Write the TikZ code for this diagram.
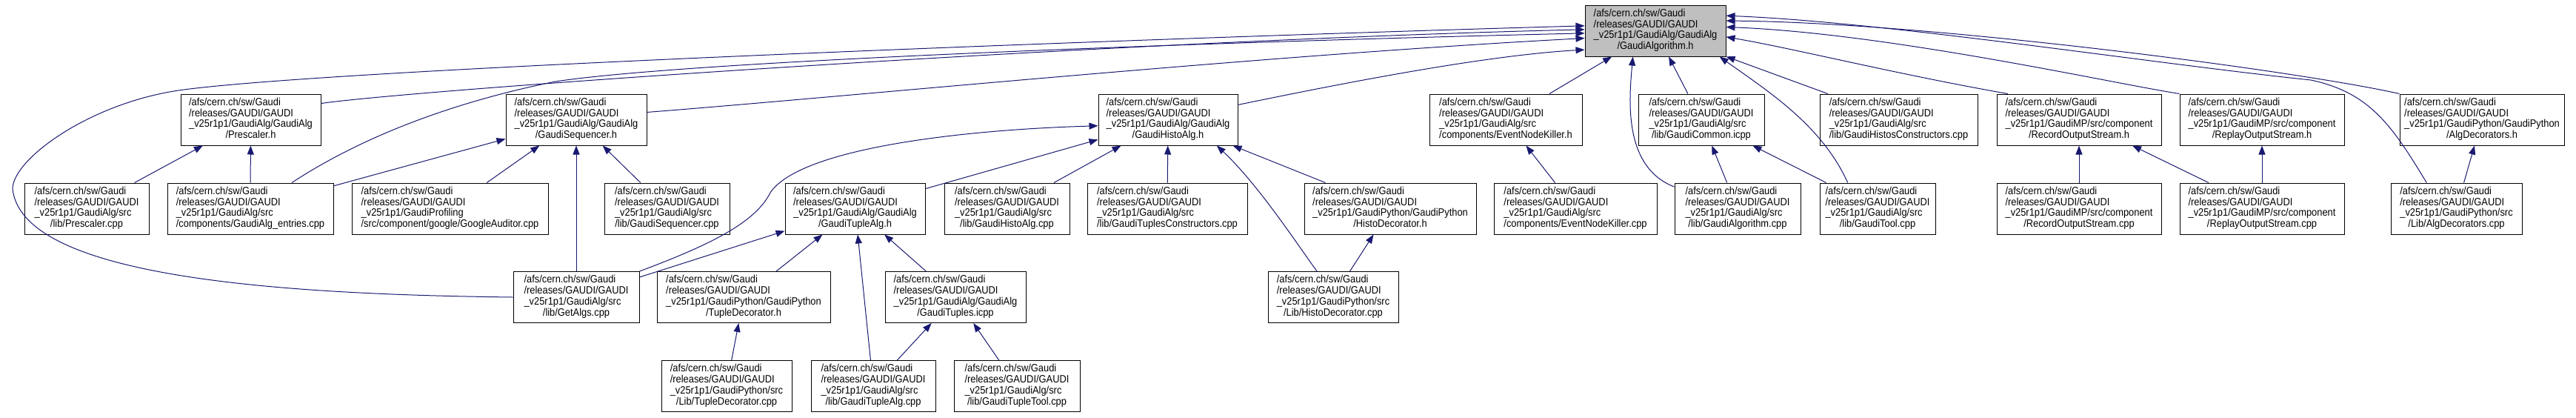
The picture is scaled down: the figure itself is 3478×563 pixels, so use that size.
\documentclass[tikz,border=0pt]{standalone}
\usepackage{fontspec}
\setmainfont[FakeStretch=0.9]{Liberation Sans}
\usetikzlibrary{arrows.meta}
\definecolor{edgeblue}{HTML}{191970}
\definecolor{rootgray}{HTML}{BFBFBF}
\newcommand{\gpath}[2]{\begin{tabular}{@{}l@{}}/afs/cern.ch/sw/Gaudi\\/releases/GAUDI/GAUDI\\#1\\\multicolumn{1}{@{}c@{}}{#2}\end{tabular}}

\begin{document}
\begin{tikzpicture}[x=1pt,y=-1pt,
	filebox/.style={draw=black,line width=1pt,fill=white,minimum height=69pt,inner sep=0pt,font=\fontsize{14.3}{14.5}\selectfont},
	rootbox/.style={filebox,fill=rootgray},
	inc/.style={draw=edgeblue,line width=1pt,-{Triangle[length=12pt,width=9pt]}}]
	\useasboundingbox (0,0) rectangle (3478,563);
	
	\node[rootbox,minimum width=190pt] (root) at (2235,41.5) {\gpath{\_v25r1p1/GaudiAlg/GaudiAlg}{/GaudiAlgorithm.h}};
	
	\node[filebox,minimum width=189pt] (presh) at (338.5,161.5) {\gpath{\_v25r1p1/GaudiAlg/GaudiAlg}{/Prescaler.h}};
	\node[filebox,minimum width=190pt] (seqh) at (778,161.5) {\gpath{\_v25r1p1/GaudiAlg/GaudiAlg}{/GaudiSequencer.h}};
	\node[filebox,minimum width=188pt] (histoh) at (1577,161.5) {\gpath{\_v25r1p1/GaudiAlg/GaudiAlg}{/GaudiHistoAlg.h}};
	\node[filebox,minimum width=206pt] (enkh) at (2033,161.5) {\gpath{\_v25r1p1/GaudiAlg/src}{/components/EventNodeKiller.h}};
	\node[filebox,minimum width=170pt] (common) at (2297,161.5) {\gpath{\_v25r1p1/GaudiAlg/src}{/lib/GaudiCommon.icpp}};
	\node[filebox,minimum width=213pt] (histoscons) at (2563.5,161.5) {\gpath{\_v25r1p1/GaudiAlg/src}{/lib/GaudiHistosConstructors.cpp}};
	\node[filebox,minimum width=222pt] (recordh) at (2807,161.5) {\gpath{\_v25r1p1/GaudiMP/src/component}{/RecordOutputStream.h}};
	\node[filebox,minimum width=222pt] (replayh) at (3054,161.5) {\gpath{\_v25r1p1/GaudiMP/src/component}{/ReplayOutputStream.h}};
	\node[filebox,minimum width=222pt] (algdech) at (3351,161.5) {\gpath{\_v25r1p1/GaudiPython/GaudiPython}{/AlgDecorators.h}};
	
	\node[filebox,minimum width=168pt] (prescpp) at (117,281.5) {\gpath{\_v25r1p1/GaudiAlg/src}{/lib/Prescaler.cpp}};
	\node[filebox,minimum width=224pt] (entries) at (338,281.5) {\gpath{\_v25r1p1/GaudiAlg/src}{/components/GaudiAlg\_entries.cpp}};
	\node[filebox,minimum width=265pt] (google) at (607.5,281.5) {\gpath{\_v25r1p1/GaudiProfiling}{/src/component/google/GoogleAuditor.cpp}};
	\node[filebox,minimum width=169pt] (seqcpp) at (900.5,281.5) {\gpath{\_v25r1p1/GaudiAlg/src}{/lib/GaudiSequencer.cpp}};
	\node[filebox,minimum width=189pt] (tuplealgh) at (1154.5,281.5) {\gpath{\_v25r1p1/GaudiAlg/GaudiAlg}{/GaudiTupleAlg.h}};
	\node[filebox,minimum width=169pt] (histocpp) at (1359.5,281.5) {\gpath{\_v25r1p1/GaudiAlg/src}{/lib/GaudiHistoAlg.cpp}};
	\node[filebox,minimum width=216pt] (tuplescons) at (1576,281.5) {\gpath{\_v25r1p1/GaudiAlg/src}{/lib/GaudiTuplesConstructors.cpp}};
	\node[filebox,minimum width=232pt] (histodech) at (1877,281.5) {\gpath{\_v25r1p1/GaudiPython/GaudiPython}{/HistoDecorator.h}};
	\node[filebox,minimum width=220pt] (enkcpp) at (2127,281.5) {\gpath{\_v25r1p1/GaudiAlg/src}{/components/EventNodeKiller.cpp}};
	\node[filebox,minimum width=170pt] (algcpp) at (2346,281.5) {\gpath{\_v25r1p1/GaudiAlg/src}{/lib/GaudiAlgorithm.cpp}};
	\node[filebox,minimum width=156pt] (toolcpp) at (2535,281.5) {\gpath{\_v25r1p1/GaudiAlg/src}{/lib/GaudiTool.cpp}};
	\node[filebox,minimum width=222pt] (recordcpp) at (2807,281.5) {\gpath{\_v25r1p1/GaudiMP/src/component}{/RecordOutputStream.cpp}};
	\node[filebox,minimum width=222pt] (replaycpp) at (3054,281.5) {\gpath{\_v25r1p1/GaudiMP/src/component}{/ReplayOutputStream.cpp}};
	\node[filebox,minimum width=177pt] (algdeccpp) at (3316.5,281.5) {\gpath{\_v25r1p1/GaudiPython/src}{/Lib/AlgDecorators.cpp}};
	
	\node[filebox,minimum width=170pt] (getalgs) at (778,401) {\gpath{\_v25r1p1/GaudiAlg/src}{/lib/GetAlgs.cpp}};
	\node[filebox,minimum width=234pt] (tupledech) at (1004,401) {\gpath{\_v25r1p1/GaudiPython/GaudiPython}{/TupleDecorator.h}};
	\node[filebox,minimum width=190pt] (tuplesicpp) at (1290,401) {\gpath{\_v25r1p1/GaudiAlg/GaudiAlg}{/GaudiTuples.icpp}};
	\node[filebox,minimum width=176pt] (histodeccpp) at (1800,401) {\gpath{\_v25r1p1/GaudiPython/src}{/Lib/HistoDecorator.cpp}};
	
	\node[filebox,minimum width=176pt] (tupledeccpp) at (981,521) {\gpath{\_v25r1p1/GaudiPython/src}{/Lib/TupleDecorator.cpp}};
	\node[filebox,minimum width=168pt] (tuplealgcpp) at (1179,521) {\gpath{\_v25r1p1/GaudiAlg/src}{/lib/GaudiTupleAlg.cpp}};
	\node[filebox,minimum width=170pt] (tupletoolcpp) at (1373,521) {\gpath{\_v25r1p1/GaudiAlg/src}{/lib/GaudiTupleTool.cpp}};
	
	% straight includes
	\draw[inc] (prescpp) -- (presh);
	\draw[inc] (entries) -- (presh);
	\draw[inc] (entries) -- (seqh);
	\draw[inc] (google) -- (seqh);
	\draw[inc] (seqcpp) -- (seqh);
	\draw[inc] (getalgs) -- (seqh);
	\draw[inc] (getalgs) -- (tuplealgh);
	\draw[inc] (tuplealgh) -- (histoh);
	\draw[inc] (histocpp) -- (histoh);
	\draw[inc] (tuplescons) -- (histoh);
	\draw[inc] (histodech) -- (histoh);
	\draw[inc] (histodeccpp) -- (histodech);
	\draw[inc] (tupledech) -- (tuplealgh);
	\draw[inc] (tuplealgcpp) -- (tuplealgh);
	\draw[inc] (tuplesicpp) -- (tuplealgh);
	\draw[inc] (tupledeccpp) -- (tupledech);
	\draw[inc] (tuplealgcpp) -- (tuplesicpp);
	\draw[inc] (tupletoolcpp) -- (tuplesicpp);
	\draw[inc] (enkcpp) -- (enkh);
	\draw[inc] (enkh) -- (root);
	\draw[inc] (algcpp) -- (common);
	\draw[inc] (common) -- (root);
	\draw[inc] (toolcpp) -- (common);
	\draw[inc] (histoscons) -- (root);
	\draw[inc] (recordcpp) -- (recordh);
	\draw[inc] (replaycpp) -- (recordh);
	\draw[inc] (replaycpp) -- (replayh);
	\draw[inc] (algdeccpp) -- (algdech);
	
	% curved includes
	\draw[inc] (getalgs.west) .. controls (350,397) and (30,370) .. (17,255)
		.. controls (17,215) and (120,140) .. (241,122)
		.. controls (450,92) and (1600,50) .. (root.176);
	\draw[inc] (presh.13) .. controls (550,122) and (1500,55) .. (root.179);
	\draw[inc] (entries.32) .. controls (480,190) and (600,140) .. (750,110)
		.. controls (950,80) and (1700,55) .. (root.182);
	\draw[inc] (seqh.6) .. controls (1150,130) and (1700,75) .. (root.186);
	\draw[inc] (histoh.12) .. controls (1800,115) and (2000,75) .. (root.195);
	\draw[inc] (getalgs.north east) .. controls (960,330) and (1020,300) .. (1040,260)
		.. controls (1080,200) and (1300,175) .. (histoh.185);
	\draw[inc] (histodeccpp.122) .. controls (1755,335) and (1700,250) .. (histoh.-28);
	\draw[inc] (algcpp.161) .. controls (2190,225) and (2200,130) .. (root.-131);
	\draw[inc] (toolcpp.139) .. controls (2460,170) and (2390,125) .. (root.-22);
	\draw[inc] (recordh.160) .. controls (2560,100) and (2420,65) .. (root.-5);
	\draw[inc] (replayh.north west) .. controls (2850,112) and (2550,45) .. (root.3);
	\draw[inc] (algdech.north west) .. controls (3100,95) and (2600,30) .. (root.8);
	\draw[inc] (algdeccpp.139) .. controls (3230,170) and (3200,125) .. (3120,108)
		.. controls (2900,85) and (2550,30) .. (root.12);
\end{tikzpicture}
\end{document}
